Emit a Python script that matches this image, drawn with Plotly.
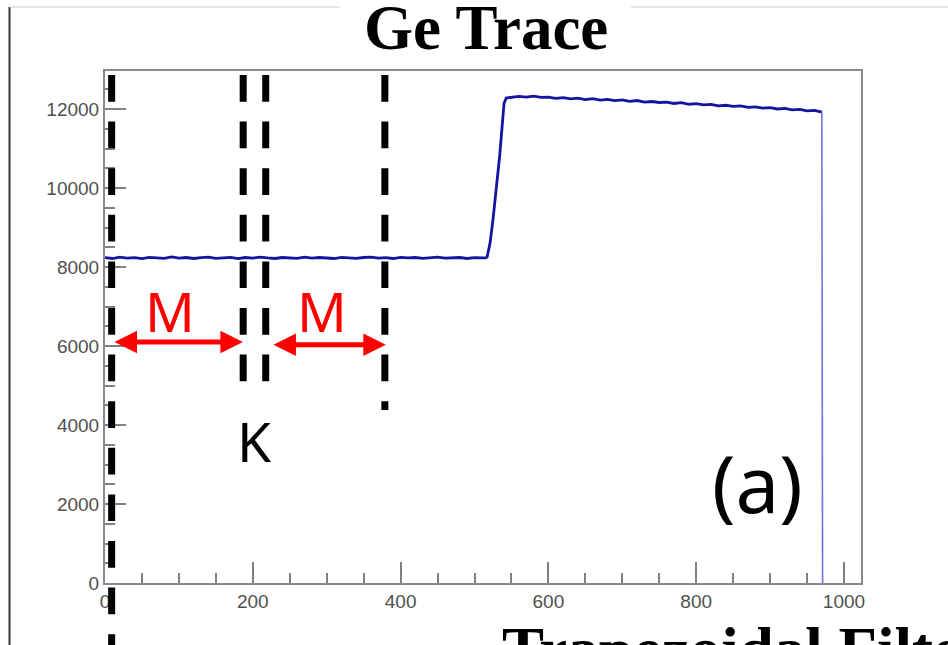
import plotly.graph_objects as go

# ---- data ----
baseline_samples = [0, 10, 20, 30, 40, 50, 60, 70, 80, 90, 100, 110, 120, 130, 140, 150, 160, 170, 180, 190,
                    200, 210, 220, 230, 240, 250, 260, 270, 280, 290, 300, 310, 320, 330, 340, 350, 360, 370,
                    380, 390, 400, 410, 420, 430, 440, 450, 460, 470, 480, 490, 500, 510]
baseline_values = [8240, 8215, 8250, 8225, 8235, 8210, 8245, 8230, 8220, 8255, 8225, 8240, 8215, 8235, 8250,
                   8220, 8230, 8245, 8210, 8240, 8225, 8250, 8230, 8215, 8240, 8235, 8220, 8250, 8225, 8240,
                   8230, 8215, 8245, 8235, 8220, 8240, 8250, 8225, 8235, 8215, 8245, 8230, 8240, 8220, 8235,
                   8250, 8225, 8230, 8240, 8215, 8235, 8230]
rise_samples = [515, 517, 521, 525, 530, 534, 537, 540, 543]
rise_values = [8230, 8250, 8600, 9200, 10030, 10800, 11470, 12150, 12280]
plateau_samples = [550, 560, 570, 580, 590, 600, 610, 620, 630, 640, 650, 660, 670, 680, 690, 700, 710, 720,
                   730, 740, 750, 760, 770, 780, 790, 800, 810, 820, 830, 840, 850, 860, 870, 880, 890, 900,
                   910, 920, 930, 940, 950, 960, 970]
plateau_values = [12290, 12320, 12300, 12325, 12295, 12300, 12270, 12290, 12255, 12275, 12240, 12260, 12225,
                  12245, 12210, 12230, 12195, 12215, 12175, 12190, 12165, 12175, 12140, 12160, 12120, 12135,
                  12105, 12115, 12080, 12095, 12065, 12080, 12040, 12055, 12020, 12035, 12000, 12015, 11980,
                  11990, 11955, 11965, 11920]
drop_samples = [970, 971]
drop_values = [11920, 0]

marker_lines = [9, 187, 217.5, 378.7]       # dashed window boundaries (samples)
arrow_spans = [(10.8, 186.6, 6100), (225.9, 380.0, 6030)]

x_range = [0, 1023]
y_range = [0, 12962]

trace_x = baseline_samples + rise_samples + plateau_samples
trace_y = baseline_values + rise_values + plateau_values

fig = go.Figure()
fig.add_trace(go.Scatter(x=trace_x, y=trace_y, mode="lines",
                         line=dict(color="#1414a0", width=2.8), hoverinfo="skip", showlegend=False))
fig.add_trace(go.Scatter(x=drop_samples, y=drop_values, mode="lines",
                         line=dict(color="#6f6fe0", width=1.6), hoverinfo="skip", showlegend=False))

tickfont = dict(family="Liberation Sans, Arial, sans-serif", size=19, color="#505050")
axis_common = dict(showgrid=False, zeroline=False, showline=True, linecolor="#8a8a8a", linewidth=2,
                   mirror=True, ticks="inside", ticklen=21, tickwidth=1.5, tickcolor="#808080",
                   tickfont=tickfont, tickformat="d", exponentformat="none", separatethousands=False)

fig.update_xaxes(range=x_range, tick0=0, dtick=200,
                 minor=dict(ticks="inside", ticklen=10, dtick=50, tickcolor="#808080", tickwidth=1.5),
                 **axis_common)
fig.update_yaxes(range=y_range, tick0=0, dtick=2000,
                 minor=dict(ticks="inside", ticklen=10, dtick=500, tickcolor="#808080", tickwidth=1.5),
                 **axis_common)

shapes = []
# slide borders
shapes.append(dict(type="line", xref="paper", yref="paper", x0=-0.1263, x1=-0.1263, y0=1.125, y1=-0.13,
                   line=dict(color="#3c3530", width=2)))
shapes.append(dict(type="line", xref="paper", yref="paper", x0=-0.1257, x1=0.3108, y0=1.125, y1=1.125,
                   line=dict(color="#dcdcdc", width=1.5)))
shapes.append(dict(type="line", xref="paper", yref="paper", x0=0.6958, x1=1.2, y0=1.125, y1=1.125,
                   line=dict(color="#dcdcdc", width=1.5)))
# dashed black lines
ends = [-0.125, 0.3906, 0.3906, 0.3379]
for xv, yend in zip(marker_lines, ends):
    shapes.append(dict(type="line", xref="x", yref="paper", x0=xv, x1=xv, y0=0.9922, y1=yend,
                       line=dict(color="black", width=7, dash="26.7px,19.9px"), layer="above"))
fig.update_layout(shapes=shapes)

annotations = []
for a0, a1, yv in arrow_spans:
    annotations.append(dict(x=a1, y=yv, ax=a0, ay=yv, xref="x", yref="y", axref="x", ayref="y",
                            text="", showarrow=True, arrowhead=2, startarrowhead=2, arrowside="end+start",
                            arrowsize=0.9, startarrowsize=0.9, arrowwidth=5, arrowcolor="#ff0000",
                            standoff=0, startstandoff=0))
label_font = "Noto Sans, Open Sans, sans-serif"
annotations.append(dict(x=87.9, y=6911, xref="x", yref="y", text="M", showarrow=False,
                        font=dict(family=label_font, size=55, color="#ff0000")))
annotations.append(dict(x=293.5, y=6911, xref="x", yref="y", text="M", showarrow=False,
                        font=dict(family=label_font, size=55, color="#ff0000")))
annotations.append(dict(x=202.9, y=3620, xref="x", yref="y", text="K", showarrow=False,
                        font=dict(family=label_font, size=55, color="black")))
annotations.append(dict(x=883.2, y=2532, xref="x", yref="y", text="(a)", showarrow=False,
                        font=dict(family=label_font, size=78, color="black")))
annotations.append(dict(x=0.504, y=1.157, xref="paper", yref="paper", text="<b>Ge Trace</b>",
                        showarrow=False, font=dict(family="Liberation Serif, Times New Roman, serif",
                                                   size=63, color="black")))
annotations.append(dict(x=0.5225, y=-0.203, xref="paper", yref="paper", text="<b>Trapezoidal Filter</b>",
                        xanchor="left", showarrow=False,
                        font=dict(family="Liberation Serif, Times New Roman, serif", size=63, color="black")))
fig.update_layout(annotations=annotations)

fig.update_layout(width=948, height=645, margin=dict(l=105, r=87, t=71, b=62),
                  paper_bgcolor="white", plot_bgcolor="white", showlegend=False)

fig.write_html("out.html", config={"displayModeBar": False})
